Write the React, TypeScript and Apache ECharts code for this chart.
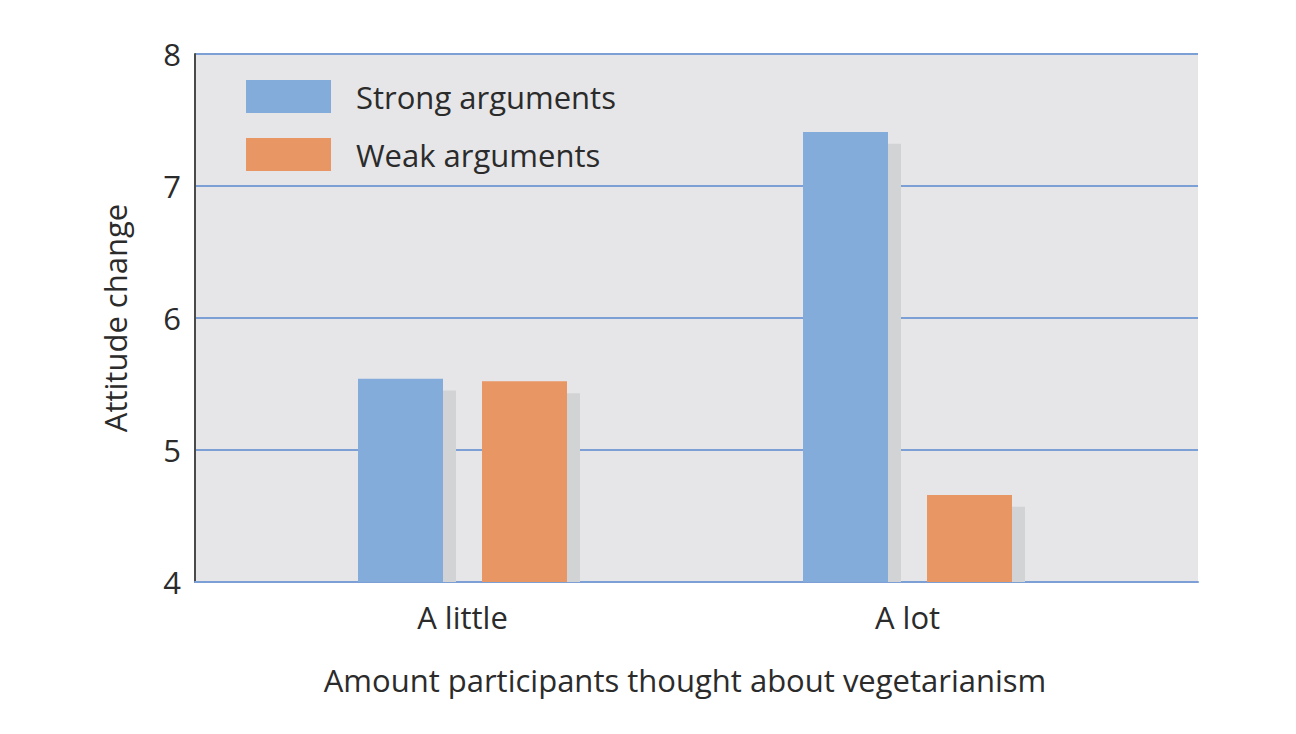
import React, { useEffect, useRef } from "react";
import * as echarts from "echarts";

const categories = ["A little", "A lot"];
const strongArgs = [5.54, 7.41];
const weakArgs = [5.52, 4.66];
const yMin = 4;
const yMax = 8;
const yStep = 1;
const shadowDrop = 0.09;

const FONT = "'Open Sans', sans-serif";
const FS = 31;
const TXT = "#2b2b2b";

export default function App() {
  const ref = useRef<HTMLDivElement>(null);
  useEffect(() => {
    document.body.style.margin = "0";
    if (!ref.current) return;
    const chart = echarts.init(ref.current, null, { renderer: "svg" });
    const hiddenY = (gridIndex: number) => ({
      type: "value",
      gridIndex,
      min: yMin,
      max: yMax,
      interval: yStep,
      show: false,
    });
    const barX = (gridIndex: number, show: boolean) => ({
      type: "category",
      gridIndex,
      data: categories,
      show,
      axisLine: { show: false },
      axisTick: { show: false },
      axisLabel: { show, fontSize: FS, color: TXT, margin: 19, fontFamily: FONT },
      name: show ? "Amount participants thought about vegetarianism" : "",
      nameLocation: "middle",
      nameGap: 82,
      nameTextStyle: { fontSize: FS, color: TXT, fontFamily: FONT },
    });
    chart.setOption({
      animation: false,
      textStyle: { fontFamily: FONT },
      grid: [
        { left: 195, right: 98, top: 54, bottom: 152, show: true, backgroundColor: "#e6e6e8", borderWidth: 0 },
        { left: 240, right: 166, top: 54, bottom: 152 },
        { left: 253, right: 153, top: 54, bottom: 152 },
      ],
      xAxis: [
        {
          type: "category",
          gridIndex: 0,
          data: categories,
          axisLine: { show: true, lineStyle: { color: "#7c9fd6", width: 2 } },
          axisTick: { show: false },
          axisLabel: { show: false },
        },
        barX(1, true),
        barX(2, false),
      ],
      yAxis: [
        {
          type: "value",
          gridIndex: 0,
          min: yMin,
          max: yMax,
          interval: yStep,
          axisLine: { show: true, lineStyle: { color: "#4a4a4a", width: 2 } },
          axisTick: { show: false },
          axisLabel: { fontSize: FS, color: TXT, margin: 14, fontFamily: FONT },
          splitLine: { show: true, lineStyle: { color: "#7c9fd6", width: 2 } },
          name: "Attitude change",
          nameLocation: "middle",
          nameGap: 65,
          nameTextStyle: { fontSize: FS, color: TXT, fontFamily: FONT },
        },
        hiddenY(1),
        hiddenY(2),
      ],
      legend: {
        orient: "vertical",
        left: 246,
        top: 80,
        padding: 0,
        itemWidth: 85,
        itemHeight: 33,
        itemGap: 25,
        icon: "rect",
        data: ["Strong arguments", "Weak arguments"],
        textStyle: { fontSize: FS, color: TXT, fontFamily: FONT, padding: [0, 0, 0, 20] },
        selectedMode: false,
      },
      series: [
        {
          type: "bar",
          xAxisIndex: 2,
          yAxisIndex: 2,
          data: strongArgs.map((v) => v - shadowDrop),
          barWidth: 85,
          barGap: "45.9%",
          itemStyle: { color: "#d2d3d5" },
          z: 1,
          silent: true,
        },
        {
          type: "bar",
          xAxisIndex: 2,
          yAxisIndex: 2,
          data: weakArgs.map((v) => v - shadowDrop),
          barWidth: 85,
          barGap: "45.9%",
          itemStyle: { color: "#d2d3d5" },
          z: 1,
          silent: true,
        },
        {
          name: "Strong arguments",
          type: "bar",
          xAxisIndex: 1,
          yAxisIndex: 1,
          data: strongArgs,
          barWidth: 85,
          barGap: "45.9%",
          itemStyle: { color: "#84acdb" },
          z: 3,
        },
        {
          name: "Weak arguments",
          type: "bar",
          xAxisIndex: 1,
          yAxisIndex: 1,
          data: weakArgs,
          barWidth: 85,
          barGap: "45.9%",
          itemStyle: { color: "#e89664" },
          z: 3,
        },
      ],
    });
    return () => chart.dispose();
  }, []);
  return <div ref={ref} style={{ width: 1296, height: 734 }} />;
}
